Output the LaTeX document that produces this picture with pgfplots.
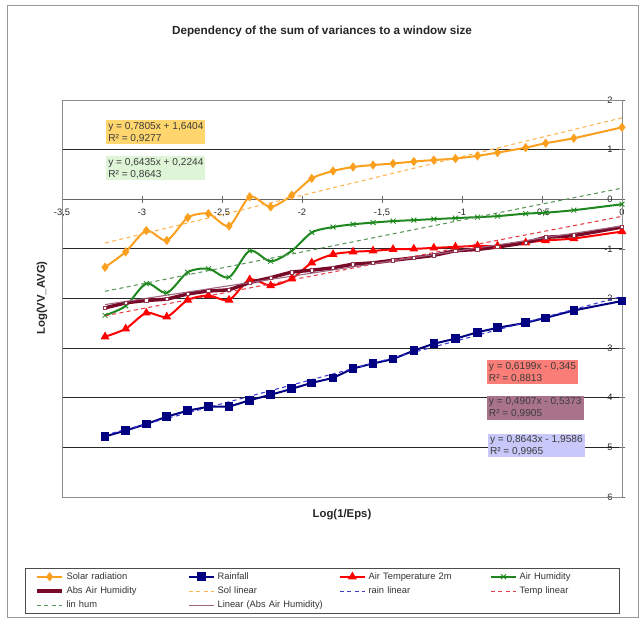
\documentclass[border=0pt]{standalone}
\usepackage{pgfplots}
\pgfplotsset{compat=1.18}
\usepackage{pgfplotstable}
\usepackage{fontspec}
\setmainfont{Liberation Sans}

% series colours
\definecolor{solar}{RGB}{250,160,30}
\definecolor{rain}{RGB}{0,0,128}
\definecolor{temp}{RGB}{255,0,0}
\definecolor{hum}{RGB}{30,135,30}
\definecolor{abshum}{RGB}{120,10,40}
% trend line colours
\definecolor{sollin}{RGB}{255,180,80}
\definecolor{rainlin}{RGB}{60,60,210}
\definecolor{templin}{RGB}{230,60,70}
\definecolor{humlin}{RGB}{90,150,90}
\definecolor{abslin}{RGB}{160,100,130}
% equation box fills
\definecolor{boxsol}{RGB}{255,214,110}
\definecolor{boxhum}{RGB}{222,245,215}
\definecolor{boxtemp}{RGB}{250,125,120}
\definecolor{boxabs}{RGB}{170,115,140}
\definecolor{boxrain}{RGB}{200,200,250}
\definecolor{txt}{RGB}{60,60,60}

% log(1/eps) against log of the summed variances
\pgfplotstableread{
x      solar  rain   temp   hum    abs
-3.231 -1.37  -4.78  -2.77  -2.34  -2.19
-3.102 -1.06  -4.66  -2.61  -2.15  -2.09
-2.973 -0.63  -4.53  -2.29  -1.70  -2.04
-2.845 -0.83  -4.38  -2.37  -1.885 -2.01
-2.714 -0.37  -4.26  -2.03  -1.47  -1.91
-2.585 -0.29  -4.18  -1.94  -1.40  -1.85
-2.456 -0.54  -4.18  -2.03  -1.57  -1.82
-2.327  0.05  -4.05  -1.62  -1.04  -1.68
-2.196 -0.155 -3.94  -1.74  -1.25  -1.58
-2.064  0.08  -3.82  -1.60  -1.04  -1.47
-1.939  0.42  -3.70  -1.28  -0.67  -1.43
-1.806  0.57  -3.60  -1.11  -0.56  -1.38
-1.681  0.65  -3.41  -1.06  -0.505 -1.31
-1.556  0.69  -3.31  -1.04  -0.47  -1.28
-1.431  0.72  -3.22  -1.01  -0.44  -1.23
-1.301  0.76  -3.05  -1.00  -0.42  -1.18
-1.176  0.79  -2.91  -0.98  -0.40  -1.13
-1.041  0.82  -2.81  -0.96  -0.38  -1.04
-0.903  0.875 -2.68  -0.94  -0.36  -1.01
-0.778  0.94  -2.59  -0.94  -0.34  -0.96
-0.602  1.04  -2.49  -0.875 -0.29  -0.875
-0.477  1.13  -2.39  -0.83  -0.27  -0.77
-0.301  1.23  -2.24  -0.79  -0.22  -0.73
 0      1.45  -2.05  -0.65  -0.10  -0.56
}\data

% end points of the linear fits
\pgfplotstableread{
x      sol     rain    temp    hum     abs
-3.231 -0.8814 -4.7512 -2.3479 -1.8547 -2.1228
 0      1.6404 -1.9586 -0.3450  0.2244 -0.5373
}\trend

\begin{document}
\begin{tikzpicture}[x=1pt,y=1pt]
\useasboundingbox (0,0) rectangle (483,464.25);
\draw[black!40, line width=0.6pt] (5.25,1.5) rectangle (478.5,460.5);

\begin{axis}[
  at={(46.5pt,91.5pt)}, anchor=south west,
  scale only axis, width=420pt, height=297.75pt,
  xmin=-3.5, xmax=0, ymin=-6, ymax=2,
  axis x line*=middle, axis y line*=right,
  hide obscured x ticks=false, hide obscured y ticks=false,
  xtick={-3.5,-3,...,0}, ytick={-6,-5,...,2},
  ymajorgrids, grid style={black!85, line width=0.6pt},
  tick align=center, major tick length=5pt,
  tick style={black!60, line width=0.5pt},
  axis line style={black!60, line width=0.6pt},
  ticklabel style={font=\fontsize{7}{8}\selectfont, text=black!85},
  /pgf/number format/assume math mode=true,
  /pgf/number format/use comma,
  xticklabel style={anchor=north, yshift=-1pt},
  yticklabel style={anchor=east, xshift=-6pt},
  clip=false,
  legend columns=4,
  legend cell align=left,
  legend image code/.code={%
    \draw[mark repeat=2, mark phase=2, #1]
      plot coordinates {(0cm,0cm) (0.33cm,0cm) (0.66cm,0cm)};},
  legend style={at={(-0.0661,-0.1788)}, anchor=north west,
    draw=black!70, line width=0.6pt,
    font=\fontsize{7}{8}\selectfont, text=black!80,
    inner xsep=7.5pt, inner ysep=1pt, row sep=0.2pt,
    nodes={text width=65pt, inner ysep=2pt},
    /tikz/every even column/.append style={column sep=24pt}},
]
% plot area frame
\draw[black!45, line width=0.6pt] (rel axis cs:0,0) rectangle (rel axis cs:1,1);

\addplot[solar, line width=1.5pt, smooth, tension=0.45, mark=diamond*, mark size=2.3pt,
  mark options={fill=solar}] table[x=x, y=solar]{\data};
\addlegendentry{\mbox{Solar radiation}}
\addplot[rain, line width=1.5pt, mark=square*, mark size=2.5pt,
  mark options={fill=rain}] table[x=x, y=rain]{\data};
\addlegendentry{\mbox{Rainfall}}
\addplot[temp, line width=1.5pt, smooth, tension=0.45, mark=triangle*, mark size=2.4pt,
  mark options={fill=temp}] table[x=x, y=temp]{\data};
\addlegendentry{\mbox{Air Temperature 2m}}
\addplot[hum, line width=1.5pt, smooth, tension=0.5, mark=x, mark size=2.6pt,
  mark options={line width=0.6pt}] table[x=x, y=hum]{\data};
\addlegendentry{\mbox{Air Humidity}}
\addplot[abshum, line width=2.6pt, smooth, tension=0.35] table[x=x, y=abs]{\data};
\addlegendentry{\mbox{Abs Air Humidity}}

\addplot[sollin, line width=0.8pt, dash pattern=on 3pt off 2.5pt] table[x=x, y=sol]{\trend};
\addlegendentry{\mbox{Sol linear}}
\addplot[rainlin, line width=0.8pt, dash pattern=on 3pt off 2.5pt] table[x=x, y=rain]{\trend};
\addlegendentry{\mbox{rain linear}}
\addplot[templin, line width=0.8pt, dash pattern=on 3pt off 2.5pt] table[x=x, y=temp]{\trend};
\addlegendentry{\mbox{Temp linear}}
\addplot[humlin, line width=0.8pt, dash pattern=on 3pt off 2.5pt] table[x=x, y=hum]{\trend};
\addlegendentry{\mbox{lin hum}}
\addplot[abslin, line width=0.8pt] table[x=x, y=abs]{\trend};
\addlegendentry{\mbox{Linear (Abs Air Humidity)}}

\addplot[forget plot, only marks, mark=square*, mark size=1.3pt, draw=abshum!80,
  fill=white, mark options={line width=0.5pt}] table[x=x, y=abs]{\data};
\end{axis}

% titles
\node[font=\bfseries\fontsize{8.8}{10}\selectfont, text=black!85] at (241.5,440.5)
  {Dependency of the sum of variances to a window size};
\node[font=\bfseries\fontsize{8.5}{9}\selectfont, text=black!85, rotate=90] at (31.5,240.75)
  {Log(VV\_AVG)};
\node[font=\bfseries\fontsize{8.5}{9}\selectfont, text=black!85] at (256.5,78)
  {Log(1/Eps)};

% fitted equations
\tikzset{eqbox/.style={anchor=north west, align=left,
  font=\fontsize{7.6}{9}\selectfont, text=txt, inner xsep=1.5pt, inner ysep=1.3pt}}
\node[eqbox, fill=boxsol]  at (79.5,374.25)  {y = 0,7805x + 1,6404\\R² = 0,9277};
\node[eqbox, fill=boxhum]  at (79.5,347.25)  {y = 0,6435x + 0,2244\\R² = 0,8643};
\node[eqbox, fill=boxtemp] at (365,194.25)   {y = 0,6199x - 0,345\\R² = 0,8813};
\node[eqbox, fill=boxabs]  at (365,167.5)    {y = 0,4907x - 0,5373\\R² = 0,9905};
\node[eqbox, fill=boxrain] at (365.8,139.3)  {y = 0,8643x - 1,9586\\R² = 0,9965};
\end{tikzpicture}
\end{document}
